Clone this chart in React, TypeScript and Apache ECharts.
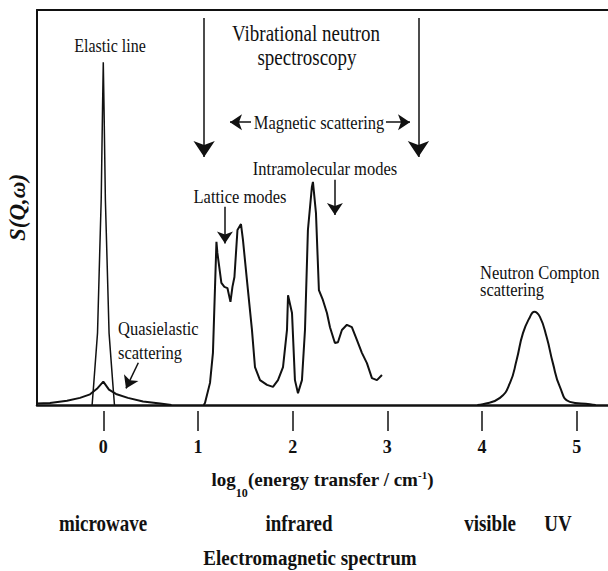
import React, { useEffect, useRef } from 'react';
import * as echarts from 'echarts';

// x: log10(energy transfer / cm-1), y: S(Q,w) in arbitrary units (0-100)
const xTicks = [0, 1, 2, 3, 4, 5];

const elasticLine: number[][] = [
  [-0.118, 0], [-0.1, 5.6], [-0.061, 18.2], [-0.032, 43.5], [-0.022, 52], [-0.008, 75],
  [0, 86.8], [0.008, 75], [0.022, 52], [0.032, 43.5], [0.061, 18.2], [0.1, 5.6], [0.118, 0],
];

const quasielastic: number[][] = [
  [-0.7, 0.4], [-0.563, 0.5], [-0.383, 1.1], [-0.246, 1.8], [-0.14, 2.7], [-0.067, 4.1],
  [0, 5.9], [0.06, 3.9], [0.134, 2.8], [0.26, 1.8], [0.42, 0.9], [0.6, 0.4], [0.72, 0],
];

const vibrational: number[][] = [
  [1.06, 0], [1.074, 0.5], [1.127, 5.6], [1.158, 13.2], [1.195, 41.3], [1.205, 38.5],
  [1.247, 30.9], [1.279, 29.9], [1.311, 29.6], [1.343, 26.1], [1.364, 29.9], [1.385, 32.4],
  [1.417, 44.3], [1.454, 45.8], [1.475, 41.8], [1.517, 31.6], [1.57, 19.0], [1.602, 9.6],
  [1.655, 6.3], [1.729, 5.1], [1.792, 4.6], [1.845, 6.3], [1.898, 9.6], [1.94, 19.0],
  [1.951, 27.8], [1.993, 23.3], [2.024, 6.3], [2.056, 3.0], [2.098, 6.3], [2.13, 19.0],
  [2.161, 44.3], [2.203, 55.2], [2.214, 56.5], [2.246, 48.6], [2.277, 29.1], [2.319, 26.6],
  [2.362, 23.3], [2.394, 19.7], [2.446, 15.7], [2.478, 15.9], [2.52, 19.0], [2.573, 20.3],
  [2.625, 19.7], [2.678, 16.5], [2.731, 13.2], [2.784, 10.6], [2.837, 6.8], [2.89, 6.3],
  [2.943, 7.6],
];

const compton: number[][] = [
  [3.95, 0], [4.009, 0.2], [4.189, 1.8], [4.295, 5.6], [4.365, 11.4], [4.432, 18.2],
  [4.506, 22.3], [4.551, 23.6], [4.611, 22.3], [4.682, 17.2], [4.748, 10.6], [4.822, 4.6],
  [4.927, 0.8], [5.139, 0.2], [5.2, 0],
];

// annotation arrows: [from, to, head size]
const arrows: { from: number[]; to: number[]; head: number }[] = [
  { from: [1.065, 98], to: [1.065, 62.8], head: 16 },
  { from: [3.328, 98], to: [3.328, 62.8], head: 16 },
  { from: [1.56, 71.6], to: [1.338, 71.6], head: 12 },
  { from: [2.985, 71.6], to: [3.239, 71.6], head: 12 },
  { from: [1.285, 50.2], to: [1.285, 40.9], head: 12 },
  { from: [2.446, 57.0], to: [2.446, 48.1], head: 12 },
  { from: [0.37, 10.7], to: [0.24, 4.2], head: 12 },
];

const FONT = "'Liberation Serif', 'Times New Roman', serif";
const INK = '#111';
const X_MIN = -0.7;
const X_MAX = 5.33;

function txt(text: string, x: number, y: number, size: number, opts: any = {}) {
  const align = opts.align || 'center';
  return {
    type: 'text',
    x,
    y,
    scaleY: opts.scaleY ?? 1.2,
    silent: true,
    style: {
      text,
      x: 0,
      y: 0,
      fill: INK,
      fontFamily: FONT,
      fontSize: size,
      fontWeight: opts.bold ? 'bold' : 'normal',
      align,
      textAlign: align,
      verticalAlign: 'middle',
      textVerticalAlign: 'middle',
    },
  };
}

export default function App() {
  const ref = useRef<HTMLDivElement>(null);

  useEffect(() => {
    if (!ref.current) return;
    const chart = echarts.init(ref.current, null, { renderer: 'svg' });
    const lineSeries = (name: string, data: number[][], width: number, extra: any = {}) => ({
      type: 'line',
      name,
      data,
      showSymbol: false,
      symbol: 'none',
      silent: true,
      lineStyle: { color: INK, width },
      itemStyle: { color: INK },
      z: 3,
      ...extra,
    });

    const option: any = {
      animation: false,
      backgroundColor: '#ffffff',
      grid: { left: 37, right: 0, top: 10, bottom: 166, outerBoundsMode: 'none', containLabel: false },
      xAxis: [
        {
          type: 'value', min: X_MIN, max: X_MAX, position: 'bottom',
          axisLine: { show: true, onZero: false, lineStyle: { color: INK, width: 2.5 } },
          axisTick: { show: false }, axisLabel: { show: false }, splitLine: { show: false },
        },
        {
          type: 'value', min: X_MIN, max: X_MAX, position: 'bottom', offset: 6,
          axisLine: { show: false, onZero: false },
          axisTick: { show: true, customValues: xTicks, length: 20, inside: false, lineStyle: { color: INK, width: 1.5 } },
          axisLabel: {
            show: true, customValues: xTicks, margin: 27, color: INK,
            fontFamily: FONT, fontWeight: 'bold', fontSize: 18,
          },
          splitLine: { show: false },
          name: '{a|log}{s|10}{a|(energy transfer / cm}{p|-1}{a|)}',
          nameLocation: 'middle',
          nameGap: 47,
          nameTextStyle: {
            color: INK,
            rich: {
              a: { fontFamily: FONT, fontWeight: 'bold', fontSize: 19, color: INK, lineHeight: 22 },
              s: { fontFamily: FONT, fontWeight: 'bold', fontSize: 12, color: INK, lineHeight: 12, padding: [26, 0, 0, 0] },
              p: { fontFamily: FONT, fontWeight: 'bold', fontSize: 11, color: INK, lineHeight: 11, padding: [0, 0, 10, 0] },
            },
          },
        },
        {
          type: 'value', min: X_MIN, max: X_MAX, position: 'top',
          axisLine: { show: true, onZero: false, lineStyle: { color: INK, width: 2 } },
          axisTick: { show: false }, axisLabel: { show: false }, splitLine: { show: false },
        },
      ],
      yAxis: {
        type: 'value', min: 0, max: 100, position: 'left',
        axisLine: { show: true, onZero: false, lineStyle: { color: INK, width: 2 } },
        axisTick: { show: false }, axisLabel: { show: false }, splitLine: { show: false },
        name: 'S(Q,ω)',
        nameLocation: 'middle',
        nameRotate: 90,
        nameGap: 8,
        nameTextStyle: { color: INK, fontFamily: FONT, fontStyle: 'italic', fontWeight: 'bold', fontSize: 23 },
      },
      series: [
        lineSeries('Quasielastic scattering', quasielastic, 2),
        lineSeries('Elastic line', elasticLine, 1.5),
        lineSeries('Vibrational spectrum', vibrational, 2, {
          markLine: {
            silent: true,
            animation: false,
            symbol: ['none', 'arrow'],
            symbolSize: 12,
            label: { show: false },
            emphasis: { disabled: true },
            lineStyle: { color: INK, width: 1.5, type: 'solid' },
            data: arrows.map((a) => [
              { coord: a.from, symbol: 'none' },
              { coord: a.to, symbol: 'arrow', symbolSize: a.head },
            ]),
          },
        }),
        lineSeries('Neutron Compton scattering', compton, 2, { smooth: true }),
      ],
      graphic: [
        txt('Elastic line', 110, 45, 16),
        txt('Vibrational neutron', 306, 33, 19),
        txt('spectroscopy', 307, 57, 19),
        txt('Magnetic scattering', 319, 122, 16.5),
        txt('Intramolecular modes', 325, 168, 16.5),
        txt('Lattice modes', 240, 196, 16.5),
        txt('Quasielastic', 118, 328, 16.5, { align: 'left' }),
        txt('scattering', 118, 352, 16.5, { align: 'left' }),
        txt('Neutron Compton', 480, 272, 16.5, { align: 'left' }),
        txt('scattering', 480, 289, 16.5, { align: 'left' }),
        txt('microwave', 103, 523, 19, { bold: true }),
        txt('infrared', 299, 523, 19, { bold: true }),
        txt('visible', 490, 523, 19, { bold: true }),
        txt('UV', 558, 523, 19, { bold: true }),
        txt('Electromagnetic spectrum', 310, 558, 19, { bold: true, scaleY: 1.1 }),
      ],
    };
    chart.setOption(option);
    return () => chart.dispose();
  }, []);

  return (
    <div
      ref={ref}
      style={{ position: 'absolute', left: 0, top: 0, width: 608, height: 571, background: '#fff' }}
    />
  );
}
